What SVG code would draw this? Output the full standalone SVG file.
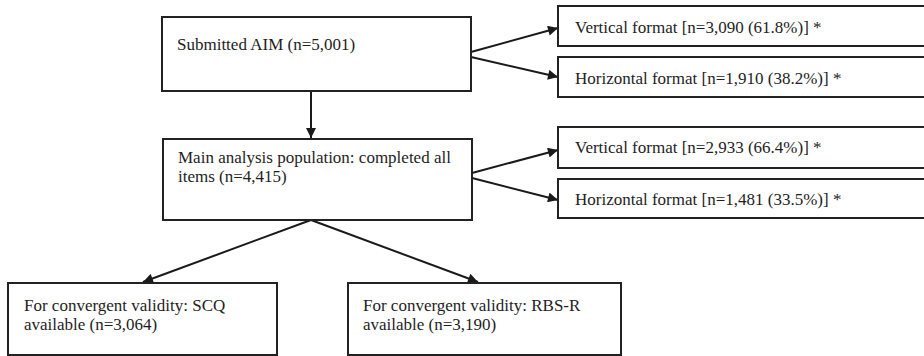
<svg xmlns="http://www.w3.org/2000/svg" width="924" height="356" viewBox="0 0 924 356">
  <style>
    .box { fill: #ffffff; stroke: #222222; stroke-width: 2; }
    .lbl { font-family: "Liberation Serif", "Times New Roman", serif; font-size: 17px; fill: #1e1e1e; }
    .edge { stroke: #1a1a1a; stroke-width: 2; fill: none; marker-end: url(#head); }
  </style>
  <defs>
    <marker id="head" viewBox="0 0 10 10" refX="10" refY="5" markerWidth="6" markerHeight="5" markerUnits="strokeWidth" orient="auto">
      <path d="M0,0 L10,5 L0,10 z" fill="#1a1a1a"/>
    </marker>
  </defs>
  <rect width="924" height="356" fill="#ffffff"/>

  <g id="connectors">
    <line class="edge" x1="311" y1="91" x2="311" y2="138"/>
    <line class="edge" x1="471" y1="52" x2="558" y2="28"/>
    <line class="edge" x1="471" y1="57" x2="558" y2="77"/>
    <line class="edge" x1="472" y1="173" x2="558" y2="150"/>
    <line class="edge" x1="472" y1="178" x2="558" y2="200"/>
    <line class="edge" x1="311" y1="220" x2="143" y2="282"/>
    <line class="edge" x1="311" y1="220" x2="478" y2="282"/>
  </g>

  <g id="submitted">
    <rect class="box" x="162" y="17" width="309" height="74"/>
    <text class="lbl" x="177" y="50">Submitted AIM (n=5,001)</text>
  </g>

  <g id="submitted-vertical">
    <rect class="box" x="558" y="6" width="380" height="40"/>
    <text class="lbl" x="575" y="33">Vertical format [n=3,090 (61.8%)] *</text>
  </g>

  <g id="submitted-horizontal">
    <rect class="box" x="558" y="57" width="380" height="40"/>
    <text class="lbl" x="575" y="84">Horizontal format [n=1,910 (38.2%)] *</text>
  </g>

  <g id="main-analysis">
    <rect class="box" x="163" y="139" width="309" height="81"/>
    <text class="lbl" x="178" y="163">Main analysis population: completed all</text>
    <text class="lbl" x="178" y="182">items (n=4,415)</text>
  </g>

  <g id="main-vertical">
    <rect class="box" x="558" y="127" width="380" height="41"/>
    <text class="lbl" x="575" y="153">Vertical format [n=2,933 (66.4%)] *</text>
  </g>

  <g id="main-horizontal">
    <rect class="box" x="558" y="179" width="380" height="39"/>
    <text class="lbl" x="575" y="205">Horizontal format [n=1,481 (33.5%)] *</text>
  </g>

  <g id="scq">
    <rect class="box" x="8" y="283" width="269" height="72"/>
    <text class="lbl" x="24" y="311">For convergent validity: SCQ</text>
    <text class="lbl" x="24" y="330">available (n=3,064)</text>
  </g>

  <g id="rbs-r">
    <rect class="box" x="348" y="283" width="273" height="72"/>
    <text class="lbl" x="363" y="311">For convergent validity: RBS-R</text>
    <text class="lbl" x="363" y="330">available (n=3,190)</text>
  </g>
</svg>
